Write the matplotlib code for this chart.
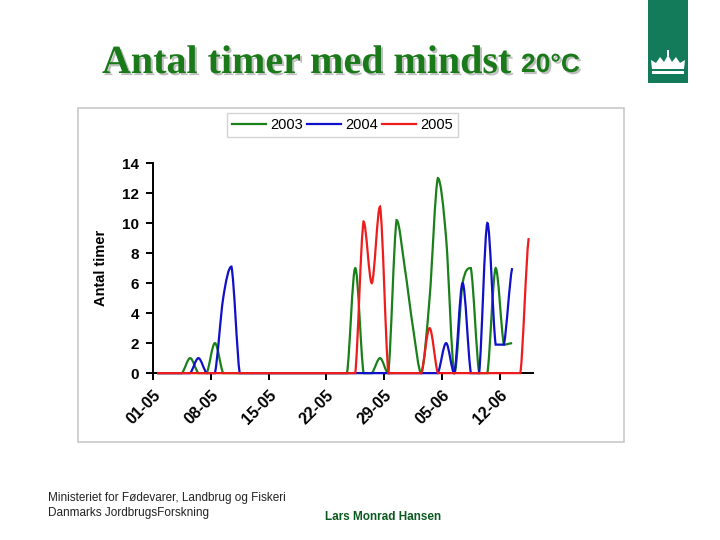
import numpy as np
import matplotlib
matplotlib.use("Agg")
import matplotlib.pyplot as plt
from matplotlib.path import Path
from matplotlib.patches import PathPatch, Rectangle, Polygon
from matplotlib.lines import Line2D
import matplotlib.patheffects as pe

# ---------- data: hours per day with at least 20 C, 01-05 .. 15-06 ----------
tick_labels = ["01-05", "08-05", "15-05", "22-05", "29-05", "05-06", "12-06"]
years = ["2003", "2004", "2005"]
colors = ["#1a801a", "#1010c8", "#ee1c1c"]

hours_2003 = [0, 0, 0, 0, 1, 0, 0, 2, 0, 0, 0, 0, 0, 0, 0, 0, 0, 0, 0, 0, 0, 0,
              0, 0, 7, 0, 0, 1, 0, 10.2, 7, 3, 0, 5, 13, 9, 0, 6, 7, 0, 0, 7, 1.9, 2]
hours_2004 = [0, 0, 0, 0, 0, 1, 0, 0, 5, 7.1, 0, 0, 0, 0, 0, 0, 0, 0, 0, 0, 0, 0,
              0, 0, 0, 0, 0, 0, 0, 0, 0, 0, 0, 0, 0, 2, 0, 6, 0, 0, 10, 1.9, 1.9, 7]
hours_2005 = [0, 0, 0, 0, 0, 0, 0, 0, 0, 0, 0, 0, 0, 0, 0, 0, 0, 0, 0, 0, 0, 0,
              0, 0, 0, 10.1, 6, 11.1, 0, 0, 0, 0, 0, 3, 0, 0, 0, 0, 0, 0, 0, 0, 0, 0, 0, 9]
series = [hours_2003, hours_2004, hours_2005]


def smooth_path(vals):
    # Excel-style smoothed line: cubic Bezier through the daily points
    x = np.arange(len(vals)) + 0.5
    y = np.asarray(vals, dtype=float)
    n = len(y)
    verts = [(x[0], y[0])]
    codes = [Path.CURVE4 * 0 + Path.MOVETO]
    for k in range(n - 1):
        k0 = max(k - 1, 0); k3 = min(k + 2, n - 1)
        lo, hi = min(y[k], y[k + 1]), max(y[k], y[k + 1])
        c1y = np.clip(y[k] + (y[k + 1] - y[k0]) / 6, lo, hi)
        c2y = np.clip(y[k + 1] - (y[k3] - y[k]) / 6, lo, hi)
        verts += [(x[k] + 1 / 3, c1y), (x[k + 1] - 1 / 3, c2y), (x[k + 1], y[k + 1])]
        codes += [Path.CURVE4] * 3
    return Path(verts, codes)


fig = plt.figure(figsize=(7.2, 5.4), dpi=100)
fig.patch.set_facecolor("white")

# chart frame
fig.patches.append(Rectangle((0.1083, 0.1815), 0.7583, 0.6185, transform=fig.transFigure,
                             fill=False, edgecolor="#c8c8c8", linewidth=1.2))

ax = fig.add_axes([0.2125, 0.309, 0.5275, 0.389])
for vals, c in zip(series, colors):
    ax.add_patch(PathPatch(smooth_path(vals), facecolor="none", edgecolor=c,
                           linewidth=1.6, zorder=3, clip_on=False))

ax.set_xlim(0, 46)
ax.set_ylim(0, 14)
ax.set_yticks(range(0, 15, 2))
ax.set_xticks(range(0, 43, 7))
ax.set_xticklabels(tick_labels, rotation=45, ha="right", va="top",
                   rotation_mode="anchor", fontweight="bold", fontsize=11.5,
                   family="Liberation Sans")
for lab in ax.get_yticklabels():
    lab.set_fontweight("bold"); lab.set_fontsize(11); lab.set_family("Liberation Sans")
ax.tick_params(axis="both", direction="out", length=5, width=1.4, color="black")
ax.tick_params(axis="x", pad=5)
ax.tick_params(axis="y", pad=5)
ax.spines["top"].set_visible(False)
ax.spines["right"].set_visible(False)
ax.spines["left"].set_linewidth(1.4)
ax.spines["bottom"].set_linewidth(1.4)
ax.set_ylabel("Antal timer", fontsize=10.5, fontweight="bold", family="Liberation Sans",
              labelpad=10)

handles = [Line2D([], [], color=c, linewidth=1.6) for c in colors]
fig.legend(handles, years, loc="center", bbox_to_anchor=(0.4757, 0.7685), ncol=3,
           frameon=True, fancybox=False, edgecolor="#c8c8c8", handlelength=2.3,
           handletextpad=0.3, columnspacing=0.3, borderpad=0.35,
           prop={"family": "Liberation Sans", "size": 10.5})

# title with shadow
shadow = [pe.SimplePatchShadow(offset=(1.5, -1.5), shadow_rgbFace="#b0b0b0", alpha=0.8),
          pe.Normal()]
fig.text(102 / 720, 1 - 73 / 540, "Antal timer med mindst", family="Liberation Serif",
         fontweight="bold", fontsize=28.8, color="#1a7a1a", ha="left", va="baseline",
         path_effects=shadow)
fig.text(521 / 720, 1 - 72 / 540, "20°C", family="Liberation Sans",
         fontweight="bold", fontsize=19, color="#1a7a1a", ha="left", va="baseline",
         path_effects=shadow)

# logo block with simple crown
fig.patches.append(Rectangle((0.9, 0.8463), 0.0556, 0.1537, transform=fig.transFigure,
                             facecolor="#137a5a", edgecolor="none"))
def px(x, y):
    return (x / 720, 1 - y / 540)
crown = [px(652, 69), px(651, 60), px(656, 63), px(660, 57), px(664, 62), px(668, 55),
         px(672, 62), px(676, 57), px(680, 63), px(685, 60), px(684, 69)]
fig.patches.append(Polygon(crown, closed=True, transform=fig.transFigure,
                           facecolor="white", edgecolor="none"))
fig.patches.append(Rectangle(px(652, 74), 32 / 720, 3 / 540, transform=fig.transFigure,
                             facecolor="white", edgecolor="none"))
fig.patches.append(Rectangle(px(667, 56), 2 / 720, 6 / 540, transform=fig.transFigure,
                             facecolor="white", edgecolor="none"))

# footer
fig.text(48 / 720, 1 - 498 / 540, "Ministeriet for Fødevarer, Landbrug og Fiskeri",
         family="Liberation Sans", fontsize=8.5, color="#222222", va="center")
fig.text(48 / 720, 1 - 513 / 540, "Danmarks JordbrugsForskning",
         family="Liberation Sans", fontsize=8.5, color="#222222", va="center")
fig.text(325 / 720, 1 - 517 / 540, "Lars Monrad Hansen", family="Liberation Sans",
         fontweight="bold", fontsize=8.5, color="#0b5a20", va="center")

fig.savefig("out.png", dpi=100, facecolor="white")
